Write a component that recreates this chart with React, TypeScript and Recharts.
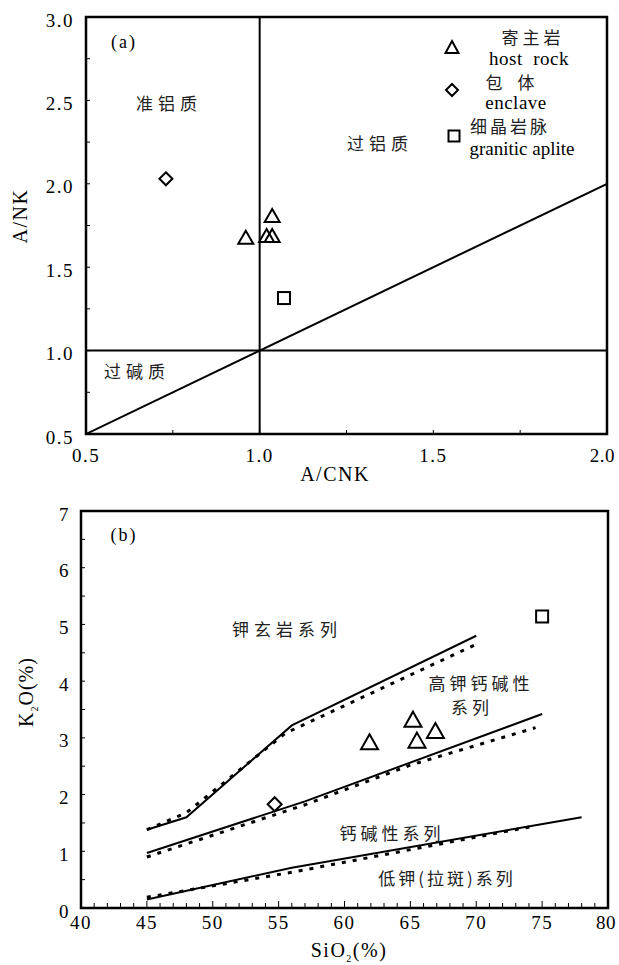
import React from 'react'
import { ComposedChart, Line, Scatter, XAxis, YAxis, ReferenceLine, ReferenceArea } from 'recharts'

const SERIF = '"Liberation Serif", "Times New Roman", serif'
const CJK = '"Noto Sans CJK SC", sans-serif'

// ---- (a) A/NK vs A/CNK ----
const aXTicks = [0.5, 0.75, 1.0, 1.25, 1.5, 1.75, 2.0]
const aYTicks = [0.5, 0.75, 1.0, 1.25, 1.5, 1.75, 2.0, 2.25, 2.5, 2.75, 3.0]
const aDiagonal = [
  { x: 0.5, y: 0.5 },
  { x: 2.0, y: 2.0 },
]
const aHost = [
  { x: 0.96, y: 1.68 },
  { x: 1.02, y: 1.69 },
  { x: 1.036, y: 1.69 },
  { x: 1.036, y: 1.81 },
]
const aEnclave = [{ x: 0.73, y: 2.03 }]
const aAplite = [{ x: 1.07, y: 1.315 }]

// ---- (b) K2O vs SiO2 ----
const bXTicks = [40, 41, 42, 43, 44, 45, 46, 47, 48, 49, 50, 51, 52, 53, 54, 55, 56, 57, 58, 59, 60, 61, 62, 63, 64, 65, 66, 67, 68, 69, 70, 71, 72, 73, 74, 75, 76, 77, 78, 79, 80]
const bYTicks = [0, 0.5, 1, 1.5, 2, 2.5, 3, 3.5, 4, 4.5, 5, 5.5, 6, 6.5, 7]
const shoSolid = [
  { x: 45, y: 1.38 },
  { x: 48, y: 1.6 },
  { x: 56, y: 3.22 },
  { x: 70, y: 4.8 },
]
const shoDotted = [
  { x: 45, y: 1.38 },
  { x: 48, y: 1.68 },
  { x: 55.5, y: 3.08 },
  { x: 70, y: 4.65 },
]
const hkSolid = [
  { x: 45, y: 0.97 },
  { x: 57, y: 1.88 },
  { x: 75, y: 3.42 },
]
const hkDotted = [
  { x: 45, y: 0.9 },
  { x: 57, y: 1.82 },
  { x: 65, y: 2.52 },
  { x: 74.5, y: 3.18 },
]
const caSolid = [
  { x: 45, y: 0.15 },
  { x: 56, y: 0.71 },
  { x: 78, y: 1.6 },
]
const caDotted = [
  { x: 45, y: 0.19 },
  { x: 56, y: 0.63 },
  { x: 74.5, y: 1.45 },
]
const bHost = [
  { x: 61.9, y: 2.93 },
  { x: 65.2, y: 3.33 },
  { x: 65.5, y: 2.96 },
  { x: 66.9, y: 3.13 },
]
const bEnclave = [{ x: 54.7, y: 1.83 }]
const bAplite = [{ x: 75.0, y: 5.14 }]

const triangle = (w: number, h: number) => (p: any) => (
  <path
    d={`M${p.cx},${p.cy - h / 2} L${p.cx + w / 2},${p.cy + h / 2} L${p.cx - w / 2},${p.cy + h / 2} Z`}
    fill="none"
    stroke="#000"
    strokeWidth={2}
  />
)
const diamond = (s: number) => (p: any) => (
  <path
    d={`M${p.cx},${p.cy - s / 2} L${p.cx + s / 2},${p.cy} L${p.cx},${p.cy + s / 2} L${p.cx - s / 2},${p.cy} Z`}
    fill="none"
    stroke="#000"
    strokeWidth={2}
  />
)
const square = (s: number) => (p: any) => (
  <rect x={p.cx - s / 2} y={p.cy - s / 2} width={s} height={s} fill="none" stroke="#000" strokeWidth={2} />
)

const tickText = { fontFamily: SERIF, fontSize: 19, fill: '#000', letterSpacing: 1.5 }
const DOTS = '4 7'

// axes are 1px wide/high so the tick callback gets x/y right on the plot edge
function makeXTick(
  isMajor: (v: number) => boolean,
  fmt: (v: number) => string,
  len: (v: number) => number,
  gap: number,
  last: number,
) {
  return (props: any) => {
    const { x, y, payload } = props
    const v = payload.value
    const atEnd = v === last
    return (
      <g>
        <line x1={x} x2={x} y1={y} y2={y - len(v)} stroke="#000" strokeWidth={1} />
        {isMajor(v) && (
          <text
            x={atEnd ? x + 8 : x}
            y={y + gap}
            textAnchor={atEnd ? 'end' : 'middle'}
            dominantBaseline="central"
            {...tickText}
            letterSpacing={atEnd ? 0.5 : tickText.letterSpacing}
          >
            {fmt(v)}
          </text>
        )}
      </g>
    )
  }
}

function makeYTick(isMajor: (v: number) => boolean, fmt: (v: number) => string, gap: number) {
  return (props: any) => {
    const { x, y, payload } = props
    const v = payload.value
    return (
      <g>
        <line x1={x} x2={x + 4} y1={y} y2={y} stroke="#000" strokeWidth={1} />
        {isMajor(v) && (
          <text x={x - gap} y={y + 3} textAnchor="end" dominantBaseline="central" {...tickText}>
            {fmt(v)}
          </text>
        )}
      </g>
    )
  }
}

const half = (v: number) => Math.abs(v * 2 - Math.round(v * 2)) < 1e-6

function Label({ x, y, children, size = 17, font = CJK, spacing = 0, rotate = false }: any) {
  return (
    <div
      style={{
        position: 'absolute',
        left: x,
        top: y,
        transform: `translate(-50%, -50%)${rotate ? ' rotate(-90deg)' : ''}`,
        fontFamily: font,
        fontSize: size,
        letterSpacing: spacing,
        lineHeight: 1,
        whiteSpace: 'nowrap',
        color: font === CJK ? '#222' : '#000',
      }}
    >
      {children}
    </div>
  )
}

function LegendMark({ x, y, kind }: any) {
  const s = 20
  const shape = kind === 'tri' ? triangle(13, 12) : kind === 'dia' ? diamond(12) : square(11)
  return (
    <svg width={s} height={s} style={{ position: 'absolute', left: x - s / 2, top: y - s / 2 }}>
      {shape({ cx: s / 2, cy: s / 2 })}
    </svg>
  )
}

export default function App() {
  return (
    <div style={{ position: 'absolute', left: 0, top: 0, width: 619, height: 965, background: '#fff', overflow: 'hidden' }}>
      <div style={{ position: 'absolute', left: 0, top: 0 }}>
        <ComposedChart width={619} height={480} margin={{ top: 17, right: 12, bottom: 45, left: 85 }}>
          <XAxis
            type="number"
            dataKey="x"
            domain={[0.5, 2]}
            ticks={aXTicks}
            interval={0}
            height={1}
            tickSize={0}
            tickMargin={0}
            axisLine={false}
            tickLine={false}
            allowDataOverflow
            tick={makeXTick(half, (v) => v.toFixed(1), () => 4, 21, 2)}
          />
          <YAxis
            type="number"
            dataKey="y"
            domain={[0.5, 3]}
            ticks={aYTicks}
            interval={0}
            width={1}
            tickSize={0}
            tickMargin={0}
            axisLine={false}
            tickLine={false}
            allowDataOverflow
            tick={makeYTick(half, (v) => v.toFixed(1), 12)}
          />
          <ReferenceLine x={1} stroke="#000" strokeWidth={2} />
          <ReferenceLine y={1} stroke="#000" strokeWidth={2} />
          <Line data={aDiagonal} dataKey="y" stroke="#000" strokeWidth={2} dot={false} isAnimationActive={false} />
          <Scatter data={aHost} shape={triangle(15, 13)} isAnimationActive={false} />
          <Scatter data={aEnclave} shape={diamond(13)} isAnimationActive={false} />
          <Scatter data={aAplite} shape={square(12)} isAnimationActive={false} />
          <ReferenceArea x1={0.5} x2={2} y1={0.5} y2={3} fill="none" stroke="#000" strokeWidth={2.5} ifOverflow="visible" />
        </ComposedChart>
      </div>

      <div style={{ position: 'absolute', left: 0, top: 480 }}>
        <ComposedChart width={619} height={485} margin={{ top: 31, right: 11, bottom: 56, left: 80 }}>
          <XAxis
            type="number"
            dataKey="x"
            domain={[40, 80]}
            ticks={bXTicks}
            interval={0}
            height={1}
            tickSize={0}
            tickMargin={0}
            axisLine={false}
            tickLine={false}
            allowDataOverflow
            tick={makeXTick((v) => v % 5 === 0, (v) => String(v), (v) => (v % 5 === 0 ? 7 : 5), 14, 80)}
          />
          <YAxis
            type="number"
            dataKey="y"
            domain={[0, 7]}
            ticks={bYTicks}
            interval={0}
            width={1}
            tickSize={0}
            tickMargin={0}
            axisLine={false}
            tickLine={false}
            allowDataOverflow
            tick={makeYTick((v) => Number.isInteger(v), (v) => String(v), 11)}
          />
          <Line data={shoSolid} dataKey="y" stroke="#000" strokeWidth={2} dot={false} isAnimationActive={false} />
          <Line data={shoDotted} dataKey="y" stroke="#000" strokeWidth={3} strokeDasharray={DOTS} dot={false} isAnimationActive={false} />
          <Line data={hkSolid} dataKey="y" stroke="#000" strokeWidth={2} dot={false} isAnimationActive={false} />
          <Line data={hkDotted} dataKey="y" stroke="#000" strokeWidth={3} strokeDasharray={DOTS} dot={false} isAnimationActive={false} />
          <Line data={caSolid} dataKey="y" stroke="#000" strokeWidth={2} dot={false} isAnimationActive={false} />
          <Line data={caDotted} dataKey="y" stroke="#000" strokeWidth={3} strokeDasharray={DOTS} dot={false} isAnimationActive={false} />
          <Scatter data={bHost} shape={triangle(17, 15)} isAnimationActive={false} />
          <Scatter data={bEnclave} shape={diamond(14)} isAnimationActive={false} />
          <Scatter data={bAplite} shape={square(12)} isAnimationActive={false} />
          <ReferenceArea x1={40} x2={80} y1={0} y2={7} fill="none" stroke="#000" strokeWidth={2.5} ifOverflow="visible" />
        </ComposedChart>
      </div>

      {/* (a) annotations */}
      <Label x={124} y={42} font={SERIF} size={18} spacing={2}>(a)</Label>
      <Label x={169} y={102} spacing={5}>准铝质</Label>
      <Label x={380} y={142} spacing={5}>过铝质</Label>
      <Label x={137} y={370} spacing={5}>过碱质</Label>
      <Label x={20} y={216} font={SERIF} size={20} spacing={1.5} rotate>A/NK</Label>
      <Label x={335} y={474} font={SERIF} size={20} spacing={1.5}>A/CNK</Label>

      <LegendMark x={452} y={47} kind="tri" />
      <Label x={533} y={36} spacing={4}>寄主岩</Label>
      <Label x={529} y={58} font={SERIF} size={19} spacing={0.5}>host&nbsp;&nbsp;rock</Label>
      <LegendMark x={452} y={90} kind="dia" />
      <Label x={510} y={81}>包&nbsp;&nbsp;&nbsp;&nbsp;体</Label>
      <Label x={516} y={102} font={SERIF} size={19} spacing={0.5}>enclave</Label>
      <LegendMark x={454} y={136} kind="sq" />
      <Label x={510} y={125} spacing={3}>细晶岩脉</Label>
      <Label x={522} y={148} font={SERIF} size={19}>granitic aplite</Label>

      {/* (b) annotations */}
      <Label x={124} y={535} font={SERIF} size={18} spacing={2}>(b)</Label>
      <Label x={287} y={628} spacing={5}>钾玄岩系列</Label>
      <Label x={481} y={682} spacing={4}>高钾钙碱性</Label>
      <Label x={472} y={706} spacing={4}>系列</Label>
      <Label x={392} y={832} spacing={4}>钙碱性系列</Label>
      <Label x={447} y={877} spacing={3}>低钾(拉斑)系列</Label>
      <Label x={28} y={692} font={SERIF} size={20} spacing={1} rotate>
        K<span style={{ fontSize: 10, verticalAlign: 'sub' }}>2</span>O(%)
      </Label>
      <Label x={349} y={952} font={SERIF} size={20} spacing={1.5}>
        SiO<span style={{ fontSize: 10, verticalAlign: 'sub' }}>2</span>(%)
      </Label>
    </div>
  )
}
